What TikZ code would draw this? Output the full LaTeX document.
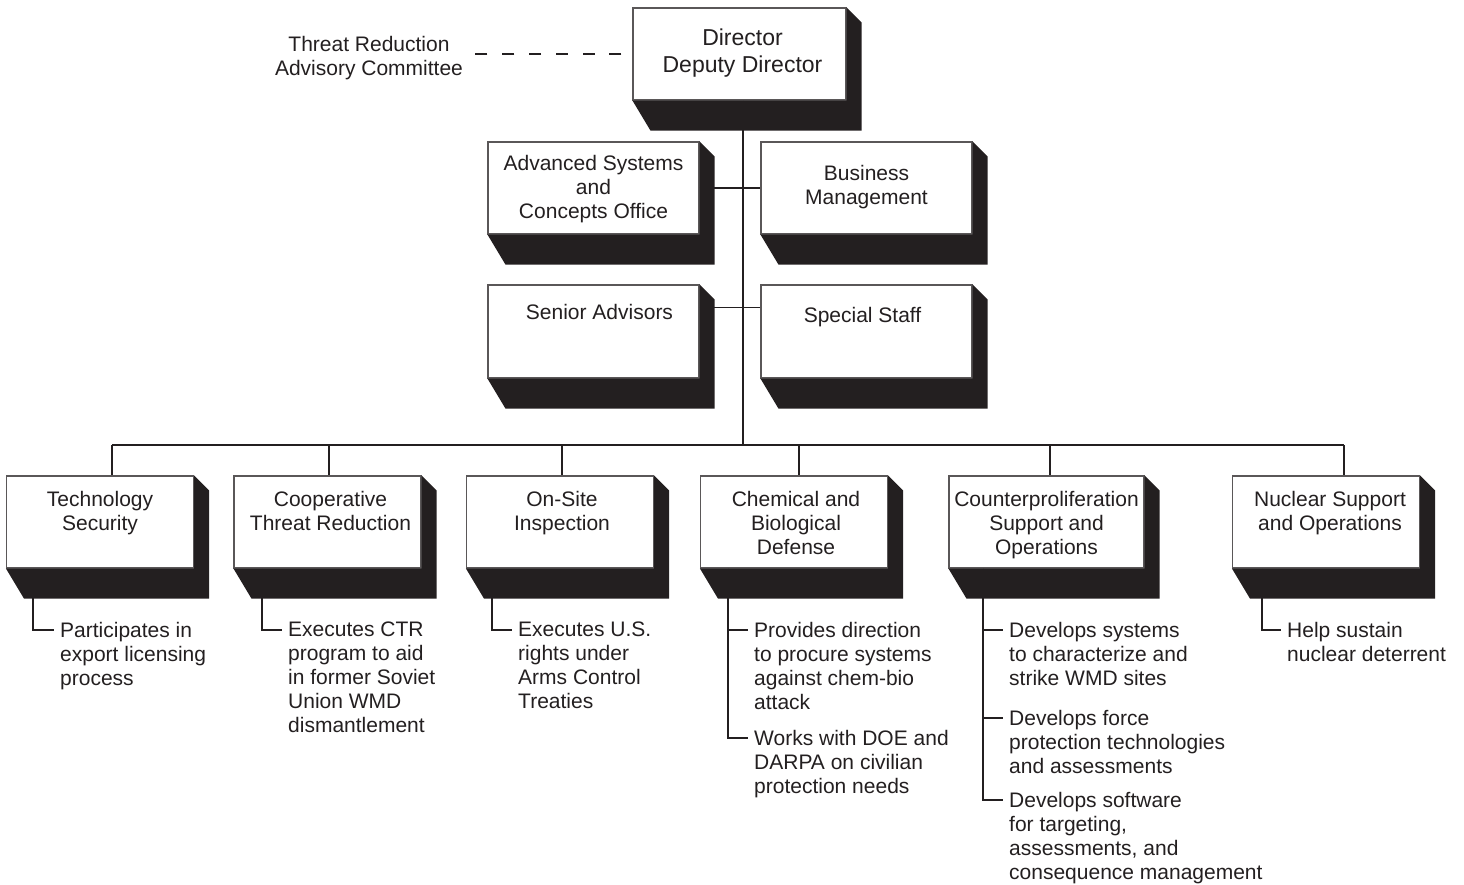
\documentclass[tikz,border=0pt]{standalone}
\usepackage{fontspec}
\setmainfont{Liberation Sans}
\usetikzlibrary{positioning}

\definecolor{ink}{HTML}{231F20}

\tikzset{
	office/.style={draw=ink!75, line width=1.1pt, fill=white, minimum width=211pt, minimum height=92pt, inner sep=0pt},
	unit/.style={office, minimum width=187pt},
	caption/.style={align=center, anchor=north, inner sep=0pt, text=ink},
	duty/.style={align=left, anchor=north west, inner sep=0pt, text=ink},
	link/.style={draw=ink, line width=1.3pt},
}
\newcommand\dropshade[1]{%
	\fill[ink] (#1.south west) -- ++(18,30) -- ([shift={(15,30)}]#1.south east)
		-- ([shift={(15,15)}]#1.north east) -- (#1.north east) -- (#1.south east) -- cycle;}

\begin{document}
\begin{tikzpicture}[x=1pt, y=-1pt, font=\fontsize{21}{24}\selectfont]
	\useasboundingbox (0,0) rectangle (1464,884);

	% front office
	\node[office, minimum width=213pt] (director) at (739.5,54) {};
	\node[caption, font=\fontsize{23}{27}\selectfont, below=21.5pt of director.north, xshift=3pt] (directortxt) {Director\\Deputy Director};
	\node[caption] (advisory) at (369,36) {Threat Reduction\\Advisory Committee};

	\node[office] (advanced) at (593.5,188) {};
	\node[caption, below=13.5pt of advanced.north] (advancedtxt) {Advanced Systems\\and\\Concepts Office};
	\node[office] (business) at (866.5,188) {};
	\node[caption, below=23.5pt of business.north] (businesstxt) {Business\\Management};
	\node[office, minimum height=93pt] (senior) at (593.5,331.5) {};
	\node[caption, below=19.5pt of senior.north, xshift=6pt] (seniortxt) {Senior Advisors};
	\node[office, minimum height=93pt] (special) at (866.5,331.5) {};
	\node[caption, below=22.5pt of special.north, xshift=-4pt] (specialtxt) {Special Staff};

	% directorates
	\node[unit] (tech) at (100,522) {};
	\node[caption, below=15.5pt of tech.north] (techtxt) {Technology\\Security};
	\node[unit] (coop) at (327.5,522) {};
	\node[caption, below=15.5pt of coop.north, xshift=3pt] (cooptxt) {Cooperative\\Threat Reduction};
	\node[unit] (onsite) at (560,522) {};
	\node[caption, below=15.5pt of onsite.north, xshift=2pt] (onsitetxt) {On-Site\\Inspection};
	\node[unit] (chem) at (794,522) {};
	\node[caption, below=15.5pt of chem.north, xshift=2pt] (chemtxt) {Chemical and\\Biological\\Defense};
	\node[unit, minimum width=195pt] (counter) at (1046.5,522) {};
	\node[caption, below=15.5pt of counter.north] (countertxt) {Counterproliferation\\Support and\\Operations};
	\node[unit] (nuclear) at (1326,522) {};
	\node[caption, below=15.5pt of nuclear.north, xshift=4pt] (nucleartxt) {Nuclear Support\\and Operations};

	\foreach \n in {director, advanced, business, senior, special, tech, coop, onsite, chem, counter, nuclear}
		\dropshade{\n};

	% lines of authority
	\coordinate (bus) at (743,445);
	\draw[link] (director.south -| bus) -- (bus);
	\draw[link] (advanced.east) -- (business.west);
	\draw[link] ([yshift=-23pt]senior.north east) -- ([yshift=-23pt]special.north west);
	\draw[link] (112,445) -- (1344,445);
	\foreach \n/\x in {tech/112, coop/329, onsite/562, chem/799, counter/1050, nuclear/1344}
		\draw[link] (\x,445) -- (\n.north -| \x,0);
	\draw[link, dash pattern=on 12pt off 14.8pt] ([xshift=-11pt]director.west) -- ++(-146,0);

	% missions
	\node[duty] (tech1) at (60,622) {Participates in\\export licensing\\process};
	\node[duty] (coop1) at (288,622) {Executes CTR\\program to aid\\in former Soviet\\Union WMD\\dismantlement};
	\node[duty] (onsite1) at (518,622) {Executes U.S.\\rights under\\Arms Control\\Treaties};
	\node[duty] (chem1) at (754,622) {Provides direction\\to procure systems\\against chem-bio\\attack};
	\node[duty] (chem2) at (754,730) {Works with DOE and\\DARPA on civilian\\protection needs};
	\node[duty] (counter1) at (1009,622) {Develops systems\\to characterize and\\strike WMD sites};
	\node[duty] (counter2) at (1009,710) {Develops force\\protection technologies\\and assessments};
	\node[duty] (counter3) at (1009,792) {Develops software\\for targeting,\\assessments, and\\consequence management};
	\node[duty] (nuclear1) at (1287,622) {Help sustain\\nuclear deterrent};

	\foreach \n/\d/\x in {tech/tech1/33, coop/coop1/262, onsite/onsite1/492, chem/chem1/728, chem/chem2/728,
		counter/counter1/983, counter/counter2/983, counter/counter3/983, nuclear/nuclear1/1262}
		\draw[link] (\n.south -| \x,0) |- ([shift={(-6,8)}]\d.north west);
\end{tikzpicture}
\end{document}
